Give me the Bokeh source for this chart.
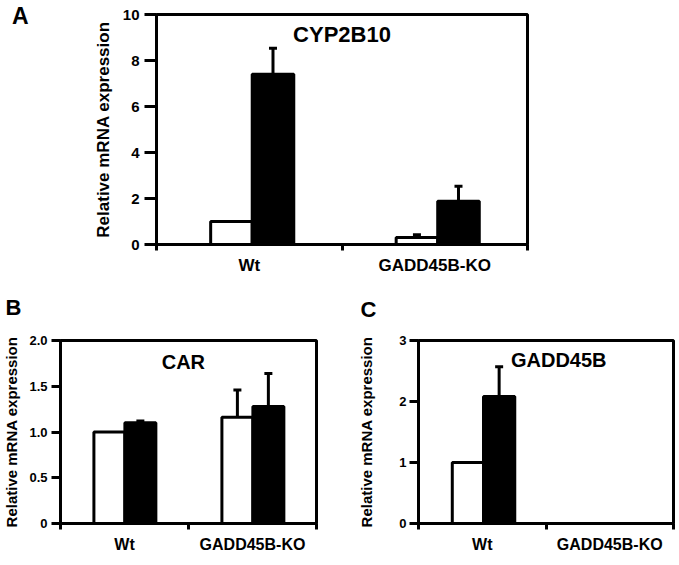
import numpy as np
from bokeh.plotting import figure
from bokeh.layouts import column, row
from bokeh.models import Range1d, FixedTicker, Label, Whisker, TeeHead, ColumnDataSource, Div
from bokeh.core.properties import value
from bokeh.embed import file_html
from bokeh.resources import INLINE

# ---------------- data ----------------
groups = ["Wt", "GADD45B-KO"]
y_axis_title = "Relative mRNA expression"
panel_letters = ["A", "B", "C"]

# Panel A: CYP2B10 (white = control, black = treated)
cyp_ctrl = [1.0, 0.30]
cyp_ctrl_err = [0.0, 0.12]
cyp_trt = [7.40, 1.88]
cyp_trt_err = [1.13, 0.65]
cyp_yticks = [0, 2, 4, 6, 8, 10]
cyp_ylabels = ["0", "2", "4", "6", "8", "10"]

# Panel B: CAR
car_ctrl = [1.0, 1.16]
car_ctrl_err = [0.0, 0.30]
car_trt = [1.10, 1.28]
car_trt_err = [0.02, 0.36]
car_yticks = [0, 0.5, 1.0, 1.5, 2.0]
car_ylabels = ["0", "0.5", "1.0", "1.5", "2.0"]

# Panel C: GADD45B
gad_ctrl = [1.0, 0.0]
gad_ctrl_err = [0.0, 0.0]
gad_trt = [2.08, 0.0]
gad_trt_err = [0.49, 0.0]
gad_yticks = [0, 1, 2, 3]
gad_ylabels = ["0", "1", "2", "3"]

FONT = "Liberation Sans"


def panel(ctrl, ctrl_err, trt, trt_err, yticks, ylabels, title, title_xy,
          frame_w, frame_h, borders, center, bw,
          tick_fs, xlab_fs, ylab_fs, title_fs, ytick_out, ystand, xstand, ylab_stand):
    n = len(groups)
    p = figure(frame_width=frame_w, frame_height=frame_h, title=None,
               x_range=Range1d(0, n), y_range=Range1d(yticks[0], yticks[-1]),
               output_backend="svg", toolbar_location=None,
               min_border_left=borders[0], min_border_right=borders[1],
               min_border_top=borders[2], min_border_bottom=borders[3])
    base = np.arange(n) + center
    xc = base - bw / 2
    xt = base + bw / 2
    p.vbar(x=xc, top=ctrl, width=bw, bottom=0, fill_color="white",
           line_color="black", line_width=3)
    p.vbar(x=xt, top=trt, width=bw, bottom=0, fill_color="black",
           line_color="black", line_width=3)

    xs, tops, ups = [], [], []
    for xx, v, e in list(zip(xc, ctrl, ctrl_err)) + list(zip(xt, trt, trt_err)):
        if e > 0:
            xs.append(float(xx)); tops.append(v); ups.append(v + e)
    src = ColumnDataSource(dict(x=xs, top=tops, upper=ups))
    w = Whisker(source=src, base="x", upper="upper", lower="top",
                dimension="height", line_color="black", line_width=3,
                upper_head=TeeHead(size=8, line_width=3, line_color="black"),
                lower_head=None)
    p.add_layout(w)

    p.xgrid.visible = False
    p.ygrid.visible = False
    p.outline_line_color = "black"
    p.outline_line_width = 3
    p.outline_line_alpha = 1.0

    xa = p.xaxis[0]
    xa.ticker = FixedTicker(ticks=[i + 0.5 for i in range(n)],
                            minor_ticks=[float(i) for i in range(n + 1)])
    xa.major_label_overrides = {i + 0.5: g for i, g in enumerate(groups)}
    xa.major_tick_out = 0
    xa.major_tick_in = 0
    xa.minor_tick_out = 6
    xa.minor_tick_in = 0
    xa.minor_tick_line_width = 3
    xa.axis_line_width = 3
    xa.major_label_standoff = xstand
    xa.major_label_text_font = FONT
    xa.major_label_text_font_style = "bold"
    xa.major_label_text_font_size = f"{xlab_fs}px"
    xa.major_label_text_color = "black"

    ya = p.yaxis[0]
    ya.ticker = FixedTicker(ticks=yticks, minor_ticks=[])
    ya.major_label_overrides = {t: l for t, l in zip(yticks, ylabels)}
    ya.major_tick_out = ytick_out
    ya.major_tick_in = 0
    ya.minor_tick_out = 0
    ya.minor_tick_in = 0
    ya.major_tick_line_width = 3
    ya.axis_line_width = 3
    ya.major_label_standoff = ystand
    ya.major_label_text_font = FONT
    ya.major_label_text_font_style = "bold"
    ya.major_label_text_font_size = f"{tick_fs}px"
    ya.major_label_text_color = "black"
    ya.axis_label = y_axis_title
    ya.axis_label_text_font = FONT
    ya.axis_label_text_font_style = "bold"
    ya.axis_label_text_font_size = f"{ylab_fs}px"
    ya.axis_label_text_color = "black"
    ya.axis_label_standoff = ylab_stand

    p.add_layout(Label(x=title_xy[0], y=title_xy[1], text=title,
                       text_align="center", text_baseline="middle",
                       text_font=FONT, text_font_style="bold",
                       text_font_size=f"{title_fs}px", text_color="black"))
    return p


def letter_strip(w, h, xs, ys, letters):
    s = figure(frame_width=w, frame_height=h, title=None,
               x_range=Range1d(0, w), y_range=Range1d(0, h),
               x_axis_type=None, y_axis_type=None,
               output_backend="svg", toolbar_location=None, min_border=0)
    s.outline_line_color = None
    s.grid.visible = False
    s.text(x=xs, y=ys, text=letters, text_font=value(FONT),
           text_font_style="bold", text_font_size="22px", text_color="black",
           text_baseline="middle", text_align="left")
    return s


# letter A, to the left of panel A
LETTER_W = 40
letterA = Div(text=(f'<div style="position:relative; left:12px; top:3px; '
                    f'font-family:\'{FONT}\'; font-weight:bold; font-size:23px; '
                    f'line-height:1.15; color:black;">{panel_letters[0]}</div>'),
              width=LETTER_W, height=290, margin=0)

pA = panel(cyp_ctrl, cyp_ctrl_err, cyp_trt, cyp_trt_err, cyp_yticks, cyp_ylabels,
           "CYP2B10", (1.0, 9.13),
           371, 230, (156 - LETTER_W, 10, 14, 46), 0.516, 0.224,
           15, 17, 17, 22, 12, 5, 5, 7)

# strip with letters B and C (page y 290..330)
stripBC = letter_strip(675, 40, [5, 360], [40 - 17, 40 - 18.5], panel_letters[1:])

pB = panel(car_ctrl, car_ctrl_err, car_trt, car_trt_err, car_yticks, car_ylabels,
           "CAR", (0.96, 1.765),
           256, 183, (58, 16, 10, 34), 0.503, 0.242,
           13, 16, 15, 20, 9, 4, 6, 6)

pC = panel(gad_ctrl, gad_ctrl_err, gad_trt, gad_trt_err, gad_yticks, gad_ylabels,
           "GADD45B", (1.10, 2.68),
           255, 183, (86, 4, 10, 34), 0.51, 0.245,
           13, 16, 15, 20, 9, 3, 6, 21)

layout = column(row(letterA, pA), stripBC, row(pB, pC))
open("out.html", "w").write(file_html(layout, INLINE))
